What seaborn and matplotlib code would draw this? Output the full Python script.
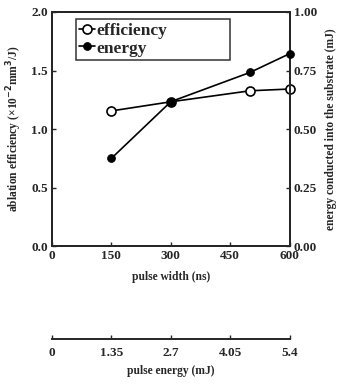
import matplotlib
matplotlib.use("Agg")
import matplotlib.pyplot as plt
import seaborn as sns
import pandas as pd

pulse_width = [150, 300, 500, 600]
efficiency = [1.155, 1.233, 1.327, 1.342]
energy = [0.375, 0.617, 0.742, 0.822]

x_ticks = [0, 150, 300, 450, 600]
y_left_ticks = [0.0, 0.5, 1.0, 1.5, 2.0]
y_left_labels = ["0.0", "0.5", "1.0", "1.5", "2.0"]
y_right_ticks = [0.0, 0.25, 0.5, 0.75, 1.0]
y_right_labels = ["0.00", "0.25", "0.50", "0.75", "1.00"]
pe_ticks = [0, 1.35, 2.7, 4.05, 5.4]
pe_labels = ["0", "1.35", "2.7", "4.05", "5.4"]

sns.set_style("ticks")
plt.rcParams['font.family'] = ['Liberation Serif', 'DejaVu Serif']
plt.rcParams['font.weight'] = 'bold'
plt.rcParams['axes.labelweight'] = 'bold'

TICK_FS = 9.5
LAB_FS = 8.3

fig = plt.figure(figsize=(3.41, 3.87), dpi=100)
ax = fig.add_axes([0.1525, 0.364, 0.697, 0.605])
ax2 = ax.twinx()

df1 = pd.DataFrame({"pw": pulse_width, "v": efficiency})
df2 = pd.DataFrame({"pw": pulse_width, "v": energy})

sns.lineplot(data=df1, x="pw", y="v", ax=ax, color="black", lw=1.2,
             marker="o", markersize=6.5, markerfacecolor="white",
             markeredgecolor="black", markeredgewidth=1.2, clip_on=False,
             label="efficiency", legend=False, zorder=5)
sns.lineplot(data=df2, x="pw", y="v", ax=ax2, color="black", lw=1.2,
             marker="o", markersize=5.5, markerfacecolor="black",
             markeredgecolor="black", clip_on=False,
             label="energy", legend=False, zorder=5)

ax.set_xlim(0, 600)
ax.set_ylim(0, 2.0)
ax2.set_ylim(0, 1.0)
ax.set_xticks(x_ticks)
ax.set_xticklabels([str(t) for t in x_ticks], fontsize=TICK_FS, fontweight='bold')
ax.set_yticks(y_left_ticks)
ax.set_yticklabels(y_left_labels, fontsize=TICK_FS, fontweight='bold')
ax2.set_yticks(y_right_ticks)
ax2.set_yticklabels(y_right_labels, fontsize=TICK_FS, fontweight='bold')
for a in (ax, ax2):
    a.tick_params(direction='in', length=3, width=1, pad=3)
    for s in a.spines.values():
        s.set_linewidth(1.4)
        s.set_visible(True)

ax.set_xlabel("pulse width (ns)", fontsize=LAB_FS, fontweight='bold', labelpad=6)
ax.set_ylabel("ablation efficiency (×10$^{-2}$mm$^{3}$/J)", fontsize=LAB_FS,
              fontweight='bold', labelpad=5)
ax2.set_ylabel("energy conducted into the substrate (mJ)", fontsize=LAB_FS,
               fontweight='bold', labelpad=6)

h1, l1 = ax.get_legend_handles_labels()
h2, l2 = ax2.get_legend_handles_labels()
leg = ax.legend(h1 + h2, l1 + l2, loc='upper left', mode='expand',
                bbox_to_anchor=(0.101, 0.778, 0.648, 0.192),
                frameon=True, fancybox=False,
                edgecolor='black', handlelength=0.9, handletextpad=0.05,
                borderpad=0.2, labelspacing=0.1, borderaxespad=0,
                prop={'family': 'Liberation Serif', 'weight': 'bold', 'size': 12.5})
leg.get_frame().set_linewidth(1.1)

# secondary pulse-energy axis
ax3 = fig.add_axes([0.1525, 0.124, 0.697, 0.001])
ax3.set_xlim(0, 5.4)
ax3.set_yticks([])
for k in ('top', 'left', 'right'):
    ax3.spines[k].set_visible(False)
ax3.spines['bottom'].set_linewidth(1.4)
ax3.set_xticks(pe_ticks)
ax3.set_xticklabels(pe_labels, fontsize=TICK_FS, fontweight='bold')
ax3.tick_params(axis='x', direction='in', length=3, width=1, pad=6)
ax3.set_xlabel("pulse energy (mJ)", fontsize=LAB_FS, fontweight='bold', labelpad=4)
ax3.patch.set_visible(False)

fig.savefig("out.png", dpi=100)
